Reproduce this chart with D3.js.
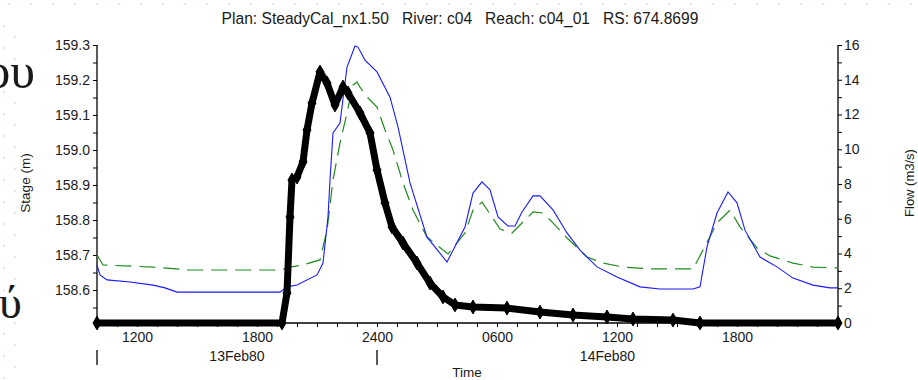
<!DOCTYPE html>
<html>
<head>
<meta charset="UTF-8">
<title></title>
<script src="https://cdn.jsdelivr.net/npm/d3@7"></script>
<style>
  body { margin: 0; background: #fff; }
  text { font-family: "Liberation Sans", Arial, sans-serif; fill: #1a1a1a; }
</style>
</head>
<body>
<div id="chart"></div>
<script>
// hours counted from 13Feb80 00:00
const stageHours = [10, 10.15, 10.5, 11.65, 12.8, 13.4, 14, 19.15, 19.5, 20, 21, 21.3, 21.55, 21.65, 21.8, 22.15, 22.5, 22.9, 23.05, 23.4, 24, 24.65, 25.05, 25.65, 26.5, 27.5, 28.4, 28.8, 29.25, 29.65, 30.05, 30.55, 30.9, 31.25, 31.8, 32.15, 32.8, 33.5, 34.15, 35, 36, 37.15, 38.15, 39.8, 40.15, 40.5, 41, 41.55, 42, 42.4, 43.15, 44, 44.8, 45.8, 46.65, 47.05];
const stage = [158.671, 158.643, 158.629, 158.623, 158.614, 158.606, 158.594, 158.594, 158.609, 158.614, 158.643, 158.677, 158.809, 158.914, 159.049, 159.077, 159.237, 159.297, 159.294, 159.257, 159.223, 159.151, 159.066, 158.906, 158.751, 158.68, 158.78, 158.877, 158.909, 158.886, 158.809, 158.783, 158.783, 158.823, 158.869, 158.869, 158.829, 158.763, 158.714, 158.666, 158.637, 158.609, 158.603, 158.603, 158.609, 158.723, 158.82, 158.88, 158.849, 158.771, 158.694, 158.666, 158.634, 158.614, 158.606, 158.606];

const flowHours = [10, 10.3, 12.8, 14.65, 19.15, 19.65, 20.3, 21.15, 21.5, 21.8, 22.15, 22.5, 22.8, 23, 23.15, 23.5, 24, 24.4, 24.8, 25.3, 25.8, 26.5, 27.55, 28.4, 28.8, 29.25, 29.75, 30.15, 30.75, 31.15, 31.8, 32.3, 32.8, 33.5, 34.5, 35.3, 36.3, 37.8, 39.8, 40.3, 41, 41.65, 42.15, 43, 43.65, 44.8, 45.8, 47.05];
const flow = [3.91, 3.34, 3.22, 3.05, 3.05, 3.22, 3.34, 3.63, 5.35, 8.23, 10.36, 12.09, 13.7, 13.87, 13.58, 13.01, 12.43, 11.11, 9.96, 8.06, 6.5, 4.95, 3.97, 5.18, 6.5, 6.96, 6.1, 5.41, 5.18, 5.64, 6.39, 6.33, 5.76, 4.89, 3.8, 3.45, 3.22, 3.11, 3.11, 4.2, 5.76, 6.5, 5.53, 4.32, 3.86, 3.45, 3.22, 3.17];

const obsHours = [10, 19.25, 19.5, 19.65, 19.75, 20, 20.3, 20.5, 20.75, 21.15, 21.5, 21.9, 22.3, 22.55, 23.15, 23.65, 24, 24.4, 24.75, 25.3, 26, 26.65, 27.3, 27.9, 28.8, 30.5, 32.15, 33.8, 35.5, 36.8, 38.8, 40.15, 47.05];
const obsFlow = [0, 0, 1.73, 6.1, 8.23, 8.4, 9.27, 11.11, 12.66, 14.45, 13.81, 12.55, 13.58, 13.24, 12.09, 10.94, 8.81, 6.91, 5.53, 4.6, 3.45, 2.3, 1.5, 1.04, 0.92, 0.86, 0.63, 0.46, 0.35, 0.23, 0.17, 0, 0];

const stageTicks = [158.55, 158.6, 158.65, 158.7, 158.75, 158.8, 158.85, 158.9, 158.95, 159.0, 159.05, 159.1, 159.15, 159.2, 159.25, 159.3];
const flowTicks = d3.range(0, 17, 1);
const dayLabels = ["13Feb80", "14Feb80"];
const title = "Plan: SteadyCal_nx1.50   River: c04   Reach: c04_01   RS: 674.8699";

const width = 918, height = 380;
const t0 = Date.UTC(1980, 1, 13);
const toDate = h => new Date(t0 + h * 3600e3);

const svg = d3.select("#chart").append("svg").attr("width", width).attr("height", height);

// faint dotted slide background outside the chart picture
const dots = svg.append("g").attr("fill", "#d3e4f1");
for (let x = 9; x < width; x += 22) dots.append("circle").attr("cx", x).attr("cy", 4).attr("r", 1.1);
for (let y = 26; y < height; y += 22) {
  dots.append("circle").attr("cx", 4).attr("cy", y).attr("r", 1.1);
  dots.append("circle").attr("cx", 15).attr("cy", y + 11).attr("r", 1.1);
}

const plot = {left: 97, right: 838, top: 45, bottom: 323};

const x = d3.scaleUtc().domain([toDate(10), toDate(47.05)]).range([plot.left, plot.right]);
const yStage = d3.scaleLinear().domain([158.5057, 159.3]).range([plot.bottom, plot.top]);
const yFlow = d3.scaleLinear().domain([0, 16]).range([plot.bottom, plot.top]);

svg.append("text").attr("x", 460).attr("y", 24).attr("text-anchor", "middle")
  .style("font-size", "15.6px").style("white-space", "pre").text(title);

// left axis
const gL = svg.append("g").attr("transform", `translate(${plot.left},0)`)
  .call(d3.axisLeft(yStage).tickValues(stageTicks).tickSize(4).tickPadding(3)
    .tickFormat(d => Math.round(d * 100) % 10 === 0 ? d.toFixed(1) : ""));
// right axis
const gR = svg.append("g").attr("transform", `translate(${plot.right},0)`)
  .call(d3.axisRight(yFlow).tickValues(flowTicks).tickSize(4).tickPadding(2)
    .tickFormat(d => d % 2 === 0 ? d : ""));
// bottom axis
const fmtHour = d => {
  const h = d.getUTCHours();
  return h % 6 !== 0 ? "" : (h === 0 ? "2400" : d3.utcFormat("%H%M")(d));
};
const gB = svg.append("g").attr("transform", `translate(0,${plot.bottom})`)
  .call(d3.axisBottom(x).ticks(d3.utcHour.every(1)).tickSize(4).tickPadding(5).tickFormat(fmtHour));

[gL, gR, gB].forEach(g => {
  g.select(".domain").attr("stroke", "#000").attr("stroke-width", 1.3);
  g.selectAll(".tick line").attr("stroke", "#000");
  g.selectAll("text").style("font-size", "14px").attr("fill", "#1a1a1a")
    .style("font-family", "'Liberation Sans', Arial, sans-serif");
});
gL.select(".domain").attr("d", `M-0,${plot.top}V${plot.bottom}`);
gR.select(".domain").attr("d", `M0,${plot.top}V${plot.bottom}`);
gB.select(".domain").attr("d", `M${plot.left},0H${plot.right}`);

// day separators and day labels
const days = [toDate(0), toDate(24), toDate(48)];
svg.selectAll(".daytick").data(days.slice(0, 2)).enter()
  .append("line").attr("class", "daytick")
  .attr("x1", d => Math.max(x(d), plot.left)).attr("x2", d => Math.max(x(d), plot.left))
  .attr("y1", 350).attr("y2", 365).attr("stroke", "#000").attr("stroke-width", 1.3);
svg.selectAll(".daylabel").data(dayLabels).enter().append("text").attr("class", "daylabel")
  .attr("x", (d, i) => (Math.max(x(days[i]), plot.left) + Math.min(x(days[i + 1]), plot.right)) / 2)
  .attr("y", 361).attr("text-anchor", "middle").style("font-size", "14px").text(d => d);

svg.append("text").attr("x", 467).attr("y", 377).attr("text-anchor", "middle")
  .style("font-size", "13.5px").text("Time");
svg.append("text").attr("transform", "translate(30,183) rotate(-90)").attr("text-anchor", "middle")
  .style("font-size", "13.5px").text("Stage (m)");
svg.append("text").attr("transform", "translate(914,183) rotate(-90)").attr("text-anchor", "middle")
  .style("font-size", "13px").text("Flow (m3/s)");

// series
const lineStage = d3.line().x((d, i) => x(toDate(stageHours[i]))).y(d => yStage(d));
const lineFlow = d3.line().x((d, i) => x(toDate(flowHours[i]))).y(d => yFlow(d));
const lineObs = d3.line().x((d, i) => x(toDate(obsHours[i]))).y(d => yFlow(d));

svg.append("path").datum(flow).attr("d", lineFlow).attr("fill", "none")
  .attr("stroke", "#1f8a1f").attr("stroke-width", 1.2).attr("stroke-dasharray", "16,8");
svg.append("path").datum(stage).attr("d", lineStage).attr("fill", "none")
  .attr("stroke", "#1a1aff").attr("stroke-width", 1.1);
svg.append("path").datum(obsFlow).attr("d", lineObs).attr("fill", "none")
  .attr("stroke", "#000").attr("stroke-width", 7).attr("stroke-linejoin", "round");
svg.selectAll(".obs").data(obsFlow).enter().append("path").attr("class", "obs")
  .attr("d", d3.symbol(d3.symbolDiamond, 55))
  .attr("transform", (d, i) => `translate(${x(toDate(obsHours[i]))},${yFlow(d)})`)
  .attr("fill", "#000").attr("stroke", "#000").attr("stroke-width", 1);

// slide text fragments at the left edge (cut off in the original too)
svg.append("text").attr("x", 35).attr("y", 88).attr("text-anchor", "end")
  .style("font-family", "'Liberation Serif', 'DejaVu Serif', serif").style("font-size", "50px").attr("fill", "#000").text("ου");
svg.append("text").attr("x", -1).attr("y", 318)
  .style("font-family", "'Liberation Serif', 'DejaVu Serif', serif").style("font-size", "46px").attr("fill", "#000").text("ύ");
</script>
</body>
</html>
